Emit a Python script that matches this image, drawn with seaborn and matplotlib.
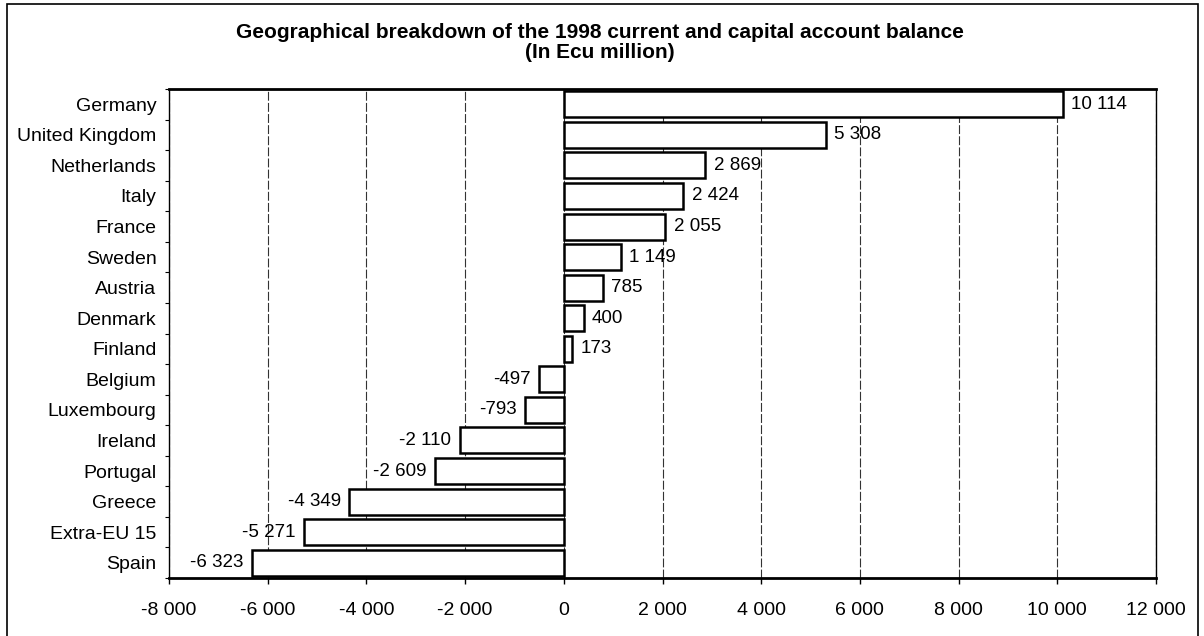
import matplotlib
matplotlib.use("Agg")
import matplotlib.pyplot as plt
import seaborn as sns
import numpy as np
import pandas as pd
from matplotlib.patches import Rectangle

# ---- data ----
countries = ["Germany", "United Kingdom", "Netherlands", "Italy", "France",
             "Sweden", "Austria", "Denmark", "Finland", "Belgium",
             "Luxembourg", "Ireland", "Portugal", "Greece", "Extra-EU 15", "Spain"]
balances = [10114, 5308, 2869, 2424, 2055, 1149, 785, 400, 173,
            -497, -793, -2110, -2609, -4349, -5271, -6323]
x_ticks = [-8000, -6000, -4000, -2000, 0, 2000, 4000, 6000, 8000, 10000, 12000]
title_line1 = "Geographical breakdown of the 1998 current and capital account balance"
title_line2 = "(In Ecu million)"


def fmt(v):
    s = f"{abs(v):,}".replace(",", " ")
    return ("-" if v < 0 else "") + s


sns.set_theme(style="white")
plt.rcParams["font.family"] = ["Liberation Sans", "DejaVu Sans"]

W, H = 1204, 636
fig = plt.figure(figsize=(W / 100, H / 100), dpi=100)
fig.patch.set_facecolor("white")

left, right, top, bottom = 169, 1156, 89, 578
ax = fig.add_axes([left / W, 1 - bottom / H, (right - left) / W, (bottom - top) / H])

df = pd.DataFrame({"country": countries, "balance": balances})
sns.barplot(data=df, x="balance", y="country", orient="h", color="white",
            saturation=1, edgecolor="black", linewidth=1.8, width=0.85, ax=ax)

ax.bar_label(ax.containers[0], labels=[fmt(v) for v in balances],
             padding=6, fontsize=13.5, color="black")

ax.set_xlim(x_ticks[0], x_ticks[-1])
ax.set_xticks(x_ticks)
ax.set_xticklabels([fmt(v) for v in x_ticks])
ax.set_xlabel("")
ax.set_ylabel("")

ax.set_axisbelow(True)
ax.xaxis.grid(True, color="#333333", linewidth=0.8, linestyle=(0, (8, 2)))
ax.yaxis.grid(False)

ax.tick_params(axis="x", bottom=True, length=4, width=1, direction="out",
               pad=13, labelsize=14, colors="black")
ax.tick_params(axis="y", left=False, length=0, pad=9, labelsize=14, colors="black")
ax.set_yticks(np.arange(-0.5, len(countries), 1.0), minor=True)
ax.tick_params(axis="y", which="minor", left=True, length=3, width=0.8,
               direction="out", color="black")

for name, sp in ax.spines.items():
    sp.set_visible(True)
    sp.set_color("black")
    sp.set_linewidth(1.0)
ax.spines["bottom"].set_linewidth(2.0)
ax.spines["top"].set_linewidth(2.0)

cx = 600 / W
fig.text(cx, 1 - 33 / H, title_line1, ha="center", va="center",
         fontsize=15, fontweight="bold", color="black")
fig.text(cx, 1 - 53 / H, title_line2, ha="center", va="center",
         fontsize=15, fontweight="bold", color="black")

fig.add_artist(Rectangle((7 / W, -0.02), (1198 - 7) / W, 1.02 - 4 / H,
                         transform=fig.transFigure, fill=False,
                         edgecolor="black", linewidth=1.2))

fig.savefig("out.png", dpi=100)
